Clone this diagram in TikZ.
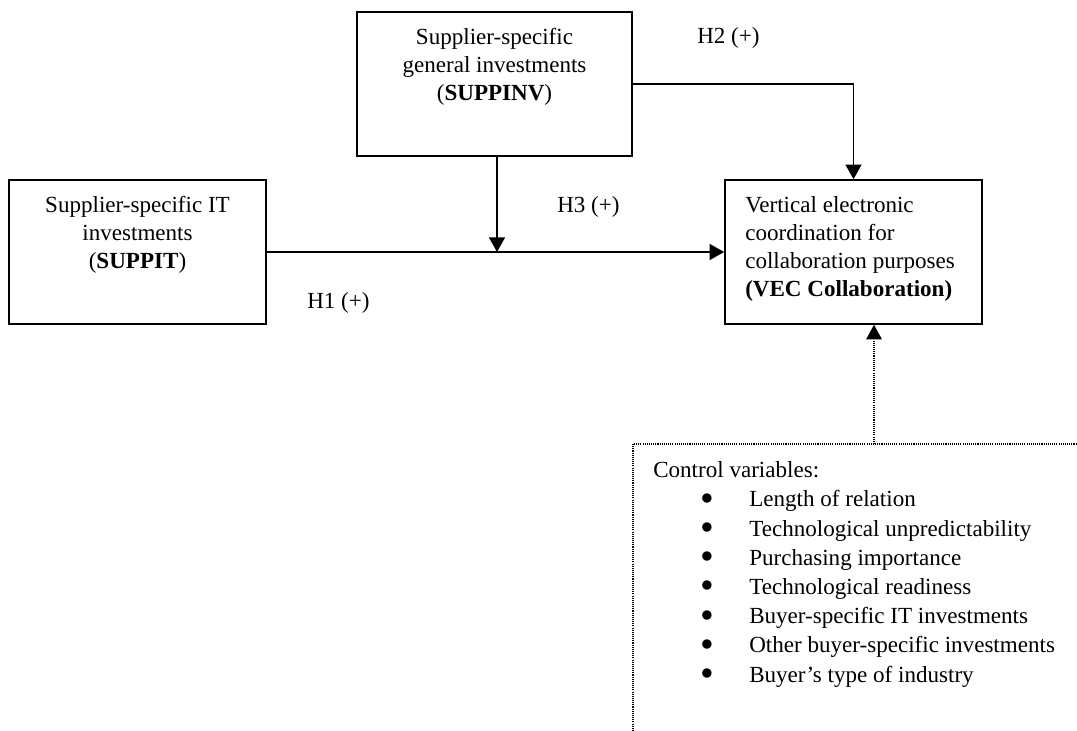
\documentclass[tikz,border=0pt]{standalone}
\usepackage{fontspec}
\setmainfont{Liberation Serif}
\usetikzlibrary{arrows.meta}
\newcommand{\bulitem}{\makebox[72pt][l]{\hspace*{35.5pt}\raisebox{-3.4pt}[0pt][0pt]{\scalebox{1.7}{\textbullet}}}}
\begin{document}
\begin{tikzpicture}[x=0.75pt,y=-0.75pt,
 box/.style={draw, line width=1.2pt, inner sep=0pt, minimum height=108pt},
 txt/.style={font=\fontsize{17.3}{21}\selectfont, inner sep=0pt},
 lbl/.style={font=\fontsize{17.3}{21}\selectfont, inner sep=0pt, anchor=base west},
 arr/.style={line width=1.2pt, -{Triangle[length=11pt,width=12pt]}},
 dotline/.style={line width=0.9pt, dash pattern=on 0.8pt off 0.8pt},
 ]
\useasboundingbox (0,0) rectangle (1077,731);
\node[box, minimum width=192.75pt] (suppit) at (137.5,252) {};
\node[box, minimum width=206.25pt] (suppinv) at (494.5,84) {};
\node[box, minimum width=192.75pt] (vec) at (853.5,252) {};
\node[txt, anchor=base, align=center] (tsuppit) at (137.5,268) {Supplier-specific IT\\investments\\(\textbf{SUPPIT})};
\node[txt, anchor=base, align=center] (tsuppinv) at (494.5,101) {Supplier-specific\\general investments\\(\textbf{SUPPINV})};
\node[txt, anchor=base west, align=left] (tvec) at (745,296) {Vertical electronic\\coordination for\\collaboration purposes\\\textbf{(VEC Collaboration)}};
\coordinate (mod) at (497,252);
\coordinate (ctrl) at (874,444);
\draw[arr] (suppit.east) -- (vec.west);
\draw[arr] (suppinv.east) -| (vec.north);
\draw[arr] (suppinv.south -| mod) -- (mod);
\draw[dotline] (633,731) -- (633,444) -- (1077,444);
\draw[dotline] (ctrl) -- ([yshift=-8pt]vec.south -| ctrl);
\fill ([yshift=-11pt]vec.south -| ctrl) ++(-6pt,0) -- ++(12pt,0) -- (vec.south -| ctrl) -- cycle;
\node[lbl] (h1) at (307,308) {H1 (+)};
\node[lbl] (h2) at (697,44) {H2 (+)};
\node[lbl] (h3) at (557,212) {H3 (+)};
\node[font=\fontsize{17.3}{21.9}\selectfont, inner sep=0pt, anchor=base west, align=left] (ctrltext) at (653,682) {Control variables:\\
\bulitem Length of relation\\
\bulitem Technological unpredictability\\
\bulitem Purchasing importance\\
\bulitem Technological readiness\\
\bulitem Buyer-specific IT investments\\
\bulitem Other buyer-specific investments\\
\bulitem Buyer’s type of industry};
\end{tikzpicture}
\end{document}
